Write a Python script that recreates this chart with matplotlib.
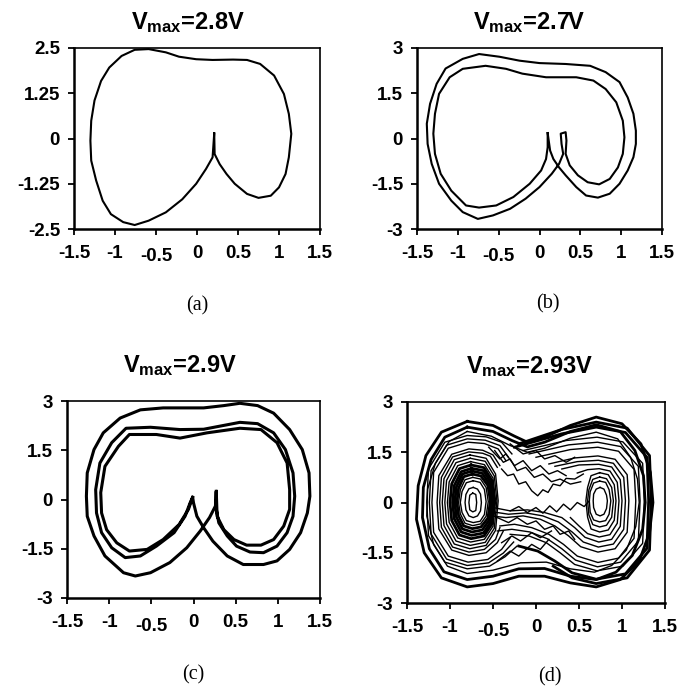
import matplotlib
matplotlib.use("Agg")
import matplotlib.pyplot as plt

plt.rcParams['font.family'] = ['Liberation Sans', 'DejaVu Sans']
plt.rcParams['mathtext.fontset'] = 'custom'
plt.rcParams['mathtext.rm'] = 'Liberation Sans:bold'
plt.rcParams['mathtext.it'] = 'Liberation Sans:bold'
plt.rcParams['mathtext.bf'] = 'Liberation Sans:bold'

# ---------------- data ----------------
x_ticks = [-1.5, -1, -0.5, 0, 0.5, 1, 1.5]
x_ticklabels = ['-1.5', '-1', '-0.5', '0', '0.5', '1', '1.5']
a_yticks = [-2.5, -1.25, 0, 1.25, 2.5]
a_yticklabels = ['-2.5', '-1.25', '0', '1.25', '2.5']
bcd_yticks = [-3, -1.5, 0, 1.5, 3]
bcd_yticklabels = ['-3', '-1.5', '0', '1.5', '3']
titles = ['2.8V', '2.7V', '2.9V', '2.93V']
captions = ['(a)', '(b)', '(c)', '(d)']

# (a) Vmax = 2.8 V : period-1 orbit
a_x = [0.21, 0.215, 0.277, 0.36, 0.46, 0.61, 0.75, 0.90, 1.0, 1.08, 1.12, 1.15, 1.12, 1.06, 0.94,
       0.77, 0.61, 0.44, 0.19, -0.01, -0.22, -0.38, -0.59, -0.76, -0.92, -1.07, -1.17, -1.25, -1.29,
       -1.30, -1.29, -1.23, -1.15, -1.05, -0.90, -0.76, -0.59, -0.38, -0.18, -0.01, 0.11, 0.19, 0.21]
a_y = [0.14, -0.43, -0.71, -0.98, -1.25, -1.53, -1.64, -1.58, -1.35, -0.98, -0.52, 0.13, 0.68, 1.23,
       1.74, 2.06, 2.17, 2.18, 2.17, 2.19, 2.26, 2.38, 2.47, 2.45, 2.28, 1.96, 1.59, 1.05, 0.49, -0.06,
       -0.61, -1.16, -1.72, -2.09, -2.31, -2.39, -2.27, -2.04, -1.68, -1.25, -0.84, -0.52, 0.14]

# (b) Vmax = 2.7 V : period-2 orbit
b_x = [0.10, 0.10, 0.08, 0.02, -0.12, -0.32, -0.53, -0.74, -0.90, -1.08, -1.21, -1.28, -1.30, -1.28,
       -1.23, -1.10, -0.94, -0.66, -0.41, -0.21, 0.08, 0.45, 0.66, 0.81, 0.94, 1.02, 1.04, 1.02, 0.96,
       0.86, 0.73, 0.59, 0.47, 0.37, 0.32, 0.33, 0.32, 0.26, 0.27, 0.29,
       0.24, 0.15, 0.00, -0.17, -0.36, -0.57, -0.755, -0.94, -1.08, -1.23, -1.32, -1.37, -1.38, -1.34,
       -1.26, -1.15, -0.94, -0.74, -0.49, -0.245, 0.0, 0.32, 0.62, 0.81, 0.98, 1.08, 1.15, 1.18, 1.18,
       1.15, 1.08, 0.98, 0.86, 0.715, 0.57, 0.45, 0.32, 0.24, 0.17, 0.13, 0.10]
b_y = [0.18, -0.29, -0.68, -1.06, -1.50, -1.94, -2.22, -2.29, -2.22, -1.73, -1.17, -0.51, 0.16, 0.82,
       1.48, 2.03, 2.31, 2.41, 2.31, 2.15, 2.03, 2.03, 1.92, 1.64, 1.20, 0.59, 0.04, -0.51, -0.96,
       -1.34, -1.52, -1.45, -1.22, -0.89, -0.51, -0.07, 0.21, 0.16, -0.18, -0.51,
       -0.84, -1.17, -1.61, -1.995, -2.33, -2.55, -2.665, -2.44, -2.06, -1.50, -0.84, -0.18, 0.49, 1.15,
       1.81, 2.32, 2.64, 2.80, 2.71, 2.58, 2.50, 2.47, 2.41, 2.20, 1.87, 1.36, 0.82, 0.26, -0.18,
       -0.62, -1.06, -1.50, -1.83, -1.96, -1.89, -1.61, -1.22, -0.96, -0.68, -0.40, 0.18]

# (c) Vmax = 2.9 V : period-3 orbit
c_x = [-0.01, -0.06, -0.17, -0.36, -0.55, -0.76, -0.91, -1.03, -1.09, -1.10, -1.05, -0.89, -0.76,
       -0.44, -0.16, 0.16, 0.55, 0.80, 0.99, 1.11, 1.14, 1.14, 1.07, 0.95, 0.80, 0.63, 0.48, 0.36,
       0.28, 0.27,
       0.26, 0.19, 0.08, -0.08, -0.28, -0.51, -0.69, -0.83, -1.05, -1.18, -1.26, -1.27, -1.26, -1.18,
       -1.07, -0.87, -0.63, -0.36, 0.12, 0.36, 0.55, 0.76, 0.95, 1.14, 1.29, 1.37, 1.38, 1.35, 1.27,
       1.14, 0.99, 0.83, 0.59, 0.40, 0.23, 0.12, 0.04, 0.0, -0.01,
       -0.04, -0.10, -0.23, -0.44, -0.63, -0.81, -0.97, -1.09, -1.15, -1.16, -1.11, -0.97, -0.80,
       -0.51, -0.16, 0.12, 0.55, 0.76, 0.95, 1.09, 1.18, 1.20, 1.18, 1.11, 0.99, 0.83, 0.67, 0.51,
       0.40, 0.30, 0.27, 0.27]
c_y = [0.07, -0.30, -0.76, -1.22, -1.52, -1.57, -1.32, -0.92, -0.41, 0.21, 1.01, 1.62, 1.98, 1.98,
       1.87, 2.03, 2.17, 2.13, 1.73, 1.11, 0.30, -0.30, -0.81, -1.22, -1.39, -1.39, -1.22, -0.92,
       -0.51, 0.25,
       -0.20, -0.55, -0.96, -1.47, -1.92, -2.23, -2.33, -2.23, -1.72, -1.11, -0.51, 0.10, 0.81, 1.52,
       2.03, 2.48, 2.73, 2.79, 2.79, 2.86, 2.93, 2.86, 2.63, 2.13, 1.52, 0.81, 0.10, -0.41, -1.01,
       -1.52, -1.87, -1.98, -1.98, -1.72, -1.27, -0.86, -0.51, -0.10, 0.07,
       -0.10, -0.51, -1.01, -1.42, -1.72, -1.77, -1.47, -1.01, -0.41, 0.30, 1.11, 1.73, 2.17, 2.20,
       2.13, 2.14, 2.35, 2.31, 2.03, 1.52, 0.81, 0.10, -0.51, -1.01, -1.42, -1.62, -1.60, -1.42,
       -1.11, -0.71, -0.29, 0.25]

# (d) Vmax = 2.93 V : chaotic double-scroll, traced as rings, arcs and crossings
d_L00 = [(-0.735, 0.28), (-0.70, 0.24), (-0.69, 0.0), (-0.70, -0.24), (-0.735, -0.28), (-0.77, -0.22),
         (-0.78, 0.0), (-0.77, 0.22), (-0.735, 0.28)]
d_L0 = [(-0.73, 0.45), (-0.68, 0.40), (-0.645, 0.25), (-0.635, 0.0), (-0.645, -0.25), (-0.68, -0.40),
        (-0.73, -0.45), (-0.78, -0.40), (-0.815, -0.22), (-0.825, 0.0), (-0.815, 0.24), (-0.78, 0.41),
        (-0.73, 0.45)]
d_LA = [(-0.73, 0.65), (-0.65, 0.60), (-0.60, 0.39), (-0.58, 0.03), (-0.60, -0.36), (-0.65, -0.56),
        (-0.73, -0.60), (-0.81, -0.54), (-0.86, -0.30), (-0.88, 0.0), (-0.86, 0.33), (-0.81, 0.59),
        (-0.73, 0.65)]
d_LA2 = [(-0.735, 0.75), (-0.645, 0.70), (-0.58, 0.45), (-0.555, 0.03), (-0.58, -0.41), (-0.645, -0.64),
         (-0.735, -0.69), (-0.825, -0.62), (-0.88, -0.34), (-0.90, 0.0), (-0.88, 0.38), (-0.825, 0.68),
         (-0.735, 0.75)]
d_LB = [(-0.74, 0.85), (-0.64, 0.79), (-0.56, 0.51), (-0.53, 0.04), (-0.56, -0.47), (-0.64, -0.73),
        (-0.74, -0.78), (-0.84, -0.70), (-0.90, -0.39), (-0.92, 0.0), (-0.90, 0.43), (-0.84, 0.77),
        (-0.74, 0.85)]
d_LB2 = [(-0.745, 0.94), (-0.625, 0.87), (-0.545, 0.56), (-0.515, 0.04), (-0.545, -0.53), (-0.625, -0.82),
         (-0.745, -0.88), (-0.855, -0.79), (-0.925, -0.44), (-0.945, 0.0), (-0.925, 0.47), (-0.855, 0.85),
         (-0.745, 0.94)]
d_LC = [(-0.75, 1.02), (-0.61, 0.95), (-0.53, 0.61), (-0.50, 0.05), (-0.53, -0.59), (-0.61, -0.91),
        (-0.75, -0.98), (-0.87, -0.88), (-0.95, -0.49), (-0.97, 0.0), (-0.95, 0.51), (-0.87, 0.92),
        (-0.75, 1.02)]
d_LC2 = [(-0.755, 1.12), (-0.605, 1.04), (-0.515, 0.67), (-0.485, 0.05), (-0.515, -0.65), (-0.605, -1.00),
         (-0.755, -1.08), (-0.89, -0.97), (-0.98, -0.54), (-1.0, 0.0), (-0.98, 0.56), (-0.89, 1.01),
         (-0.755, 1.12)]
d_LD = [(-0.76, 1.22), (-0.60, 1.13), (-0.50, 0.73), (-0.47, 0.05), (-0.50, -0.71), (-0.60, -1.10),
        (-0.76, -1.18), (-0.91, -1.06), (-1.01, -0.59), (-1.03, 0.0), (-1.01, 0.61), (-0.91, 1.10),
        (-0.76, 1.22)]
d_LD2 = [(-0.765, 1.32), (-0.59, 1.23), (-0.485, 0.79), (-0.455, 0.05), (-0.485, -0.77), (-0.59, -1.19),
         (-0.765, -1.28), (-0.93, -1.15), (-1.04, -0.64), (-1.06, 0.0), (-1.04, 0.66), (-0.93, 1.19),
         (-0.765, 1.32)]
d_LE = [(-0.77, 1.42), (-0.58, 1.32), (-0.47, 0.85), (-0.44, 0.05), (-0.47, -0.83), (-0.58, -1.28),
        (-0.77, -1.38), (-0.95, -1.24), (-1.07, -0.69), (-1.09, 0.0), (-1.07, 0.71), (-0.95, 1.28),
        (-0.77, 1.42)]
d_LE2 = [(-0.45, 1.05), (-0.53, 1.38), (-0.62, 1.47), (-0.78, 1.51), (-0.97, 1.36), (-1.10, 0.75),
         (-1.12, 0.0), (-1.10, -0.74), (-0.97, -1.33), (-0.78, -1.48), (-0.60, -1.40), (-0.47, -1.10),
         (-0.42, -0.75)]
d_LF = [(-0.42, 1.10), (-0.50, 1.42), (-0.62, 1.56), (-0.78, 1.60), (-0.98, 1.44), (-1.13, 0.80),
        (-1.15, 0.0), (-1.13, -0.79), (-0.98, -1.42), (-0.78, -1.58), (-0.58, -1.50), (-0.45, -1.20),
        (-0.38, -0.85)]
d_LG = [(-0.35, 1.25), (-0.44, 1.60), (-0.60, 1.76), (-0.79, 1.80), (-1.02, 1.62), (-1.19, 0.90),
        (-1.21, 0.0), (-1.19, -0.89), (-1.02, -1.60), (-0.79, -1.78), (-0.56, -1.70), (-0.40, -1.40),
        (-0.30, -1.05)]
d_LG2 = [(-0.32, 1.35), (-0.42, 1.70), (-0.59, 1.86), (-0.80, 1.90), (-1.04, 1.71), (-1.22, 0.95),
         (-1.24, 0.0), (-1.22, -0.94), (-1.04, -1.69), (-0.80, -1.88), (-0.55, -1.80), (-0.38, -1.51),
         (-0.26, -1.18)]
d_LH = [(-0.28, 1.45), (-0.40, 1.80), (-0.58, 1.96), (-0.80, 2.00), (-1.06, 1.80), (-1.25, 1.00),
        (-1.27, 0.0), (-1.25, -0.99), (-1.06, -1.78), (-0.80, -1.98), (-0.54, -1.90), (-0.36, -1.62),
        (-0.22, -1.30)]
d_R0 = [(0.745, 0.45), (0.79, 0.40), (0.82, 0.22), (0.83, 0.05), (0.82, -0.18), (0.79, -0.35),
        (0.745, -0.40), (0.70, -0.35), (0.67, -0.15), (0.665, 0.05), (0.67, 0.25), (0.70, 0.40),
        (0.745, 0.45)]
d_RA = [(0.74, 0.64), (0.81, 0.60), (0.85, 0.38), (0.87, 0.05), (0.85, -0.35), (0.81, -0.54),
        (0.74, -0.58), (0.67, -0.52), (0.63, -0.29), (0.62, 0.05), (0.63, 0.32), (0.67, 0.58),
        (0.74, 0.64)]
d_RA2 = [(0.74, 0.76), (0.82, 0.71), (0.88, 0.45), (0.90, 0.05), (0.88, -0.44), (0.82, -0.68),
         (0.74, -0.73), (0.66, -0.66), (0.615, -0.37), (0.60, 0.05), (0.615, 0.38), (0.66, 0.69),
         (0.74, 0.76)]
d_RB = [(0.74, 0.89), (0.84, 0.83), (0.91, 0.53), (0.93, 0.05), (0.91, -0.53), (0.84, -0.82),
        (0.74, -0.88), (0.64, -0.79), (0.60, -0.44), (0.58, 0.05), (0.60, 0.45), (0.64, 0.80),
        (0.74, 0.89)]
d_RB2 = [(0.48, 0.88), (0.60, 0.98), (0.735, 1.01), (0.86, 0.94), (0.945, 0.60), (0.965, 0.05),
         (0.945, -0.62), (0.86, -0.96), (0.735, -1.03), (0.60, -0.93), (0.50, -0.70), (0.40, -0.45)]
d_RC = [(0.30, 1.00), (0.50, 1.12), (0.73, 1.14), (0.88, 1.06), (0.98, 0.68), (1.00, 0.05),
        (0.98, -0.71), (0.88, -1.10), (0.73, -1.18), (0.57, -1.04), (0.45, -0.75), (0.30, -0.45),
        (0.10, -0.30), (-0.10, -0.22), (-0.30, -0.25), (-0.50, -0.15)]
d_RC2 = [(0.22, 1.08), (0.48, 1.22), (0.725, 1.26), (0.90, 1.17), (1.02, 0.75), (1.04, 0.05),
         (1.02, -0.80), (0.90, -1.24), (0.725, -1.33), (0.55, -1.18), (0.42, -0.88), (0.26, -0.58),
         (0.08, -0.40), (-0.12, -0.31), (-0.32, -0.35), (-0.50, -0.28)]
d_RD = [(0.15, 1.15), (0.45, 1.33), (0.72, 1.39), (0.92, 1.29), (1.06, 0.83), (1.08, 0.05),
        (1.06, -0.89), (0.92, -1.38), (0.72, -1.48), (0.52, -1.32), (0.38, -1.00), (0.22, -0.70),
        (0.05, -0.50), (-0.15, -0.40), (-0.35, -0.45), (-0.52, -0.40)]
d_RE = [(0.00, 1.35), (0.40, 1.58), (0.72, 1.65), (0.96, 1.53), (1.14, 0.99), (1.16, 0.05),
        (1.14, -1.07), (0.96, -1.66), (0.72, -1.79), (0.48, -1.60), (0.32, -1.25), (0.15, -0.95),
        (-0.05, -0.75), (-0.25, -0.65), (-0.42, -0.70)]
d_RE2 = [(-0.08, 1.45), (0.38, 1.72), (0.715, 1.80), (0.985, 1.67), (1.19, 1.08), (1.21, 0.05),
         (1.19, -1.15), (0.985, -1.78), (0.715, -1.92), (0.46, -1.72), (0.30, -1.38), (0.13, -1.08),
         (-0.07, -0.88), (-0.28, -0.80), (-0.45, -0.85)]
d_RF = [(-0.15, 1.55), (0.35, 1.85), (0.71, 1.95), (1.01, 1.81), (1.24, 1.17), (1.26, 0.05),
        (1.24, -1.22), (1.01, -1.90), (0.71, -2.04), (0.45, -1.85), (0.28, -1.50), (0.12, -1.20),
        (-0.08, -1.00), (-0.30, -0.95)]
d_RG = [(-0.25, 1.65), (0.30, 2.05), (0.70, 2.25), (1.04, 2.09), (1.29, 1.35), (1.31, 0.05),
        (1.29, -1.37), (1.04, -2.13), (0.70, -2.29), (0.42, -2.10), (0.22, -1.75), (0.02, -1.45),
        (-0.20, -1.30)]
d_RG2 = [(-0.20, 1.75), (0.30, 2.18), (0.70, 2.40), (1.06, 2.22), (1.32, 1.40), (1.34, 0.05),
         (1.32, -1.42), (1.06, -2.25), (0.70, -2.42), (0.42, -2.25), (0.20, -1.90)]
d_F1 = [(-0.80, 2.42), (-0.50, 2.30), (-0.25, 1.98), (-0.10, 1.80), (0.10, 1.95), (0.40, 2.30),
        (0.70, 2.55), (1.00, 2.35), (1.22, 1.75), (1.33, 0.90), (1.36, 0.00), (1.32, -0.90),
        (1.20, -1.75), (0.98, -2.30), (0.70, -2.52), (0.40, -2.40), (0.10, -2.20), (-0.20, -2.20),
        (-0.50, -2.42), (-0.80, -2.52), (-1.10, -2.25), (-1.30, -1.50), (-1.39, -0.50), (-1.37, 0.50),
        (-1.28, 1.40), (-1.10, 2.10), (-0.80, 2.42)]
d_F2 = [(-0.80, 2.25), (-0.50, 2.12), (-0.28, 1.85), (-0.10, 1.66), (0.10, 1.80), (0.40, 2.12),
        (0.70, 2.32), (0.98, 2.12), (1.15, 1.55), (1.25, 0.80), (1.27, 0.00), (1.24, -0.80),
        (1.12, -1.58), (0.93, -2.08), (0.70, -2.30), (0.40, -2.20), (0.10, -1.97), (-0.20, -1.98),
        (-0.50, -2.20), (-0.80, -2.30), (-1.07, -2.07), (-1.24, -1.38), (-1.32, -0.45), (-1.31, 0.45),
        (-1.22, 1.28), (-1.06, 1.95), (-0.80, 2.25)]
d_F3 = [(-0.80, 2.12), (-0.52, 1.98), (-0.30, 1.70), (-0.10, 1.50), (0.10, 1.62), (0.40, 1.92),
        (0.70, 2.10), (0.95, 1.90), (1.10, 1.35), (1.18, 0.70), (1.20, 0.00), (1.16, -0.72),
        (1.05, -1.42), (0.88, -1.88), (0.68, -2.08), (0.40, -1.98), (0.12, -1.78), (-0.18, -1.80),
        (-0.50, -2.02), (-0.80, -2.12), (-1.03, -1.90), (-1.19, -1.26), (-1.27, -0.40), (-1.26, 0.40),
        (-1.17, 1.17), (-1.01, 1.82), (-0.80, 2.12)]
d_Z1 = [(-0.40, 1.00), (-0.33, 0.80), (-0.26, 0.85), (-0.20, 0.55), (-0.12, 0.62), (-0.05, 0.35),
        (0.02, 0.20), (0.08, 0.38), (0.14, 0.30), (0.20, 0.55), (0.28, 0.50), (0.35, 0.72),
        (0.45, 0.70), (0.55, 0.85)]
d_Z2 = [(-0.30, -0.25), (-0.20, -0.12), (-0.10, -0.30), (0.00, -0.15), (0.08, -0.32), (0.16, -0.10),
        (0.24, -0.28), (0.32, -0.05), (0.40, -0.22), (0.48, 0.00), (0.56, -0.12), (0.62, 0.05)]
d_Z3 = [(-0.55, 1.65), (-0.42, 1.30), (-0.35, 1.45), (-0.25, 1.10), (-0.15, 1.25), (-0.05, 0.95),
        (0.05, 1.10), (0.15, 0.85), (0.25, 0.95), (0.35, 0.80)]
d_Z4 = [(-0.30, 1.75), (-0.15, 1.45), (0.00, 1.55), (0.10, 1.30), (0.22, 1.40), (0.35, 1.20),
        (0.45, 1.35)]
d_Z5 = [(-0.45, -1.75), (-0.30, -1.45), (-0.20, -1.60), (-0.05, -1.25), (0.05, -1.40), (0.15, -1.10)]
d_Z6 = [(-0.48, 1.55), (-0.38, 1.20), (-0.30, 1.30), (-0.22, 0.95), (-0.12, 1.05), (-0.02, 0.75),
        (0.08, 0.85), (0.18, 0.62), (0.28, 0.70), (0.40, 0.55), (0.52, 0.62)]
d_Z7 = [(-0.45, -0.45), (-0.32, -0.60), (-0.22, -0.45), (-0.10, -0.65), (0.00, -0.55), (0.10, -0.80),
        (0.20, -0.70), (0.28, -0.95), (0.38, -0.85), (0.45, -1.10)]
d_Z8 = [(-0.40, -1.20), (-0.28, -1.00), (-0.18, -1.15), (-0.05, -0.90), (0.05, -1.05), (0.18, -0.85)]

# ---------------- figure ----------------
W, H = 677, 692
fig = plt.figure(figsize=(W / 100, H / 100), dpi=100)


def px_axes(l, t, r, b):
    return fig.add_axes([l / W, 1 - b / H, (r - l) / W, (b - t) / H])


axes = [px_axes(74, 48, 320, 229), px_axes(417, 48, 662, 229),
        px_axes(67, 401, 320, 598), px_axes(407, 402, 665, 603)]


def style(ax, yt, ytl):
    ax.set_xlim(-1.5, 1.5)
    ax.set_ylim(yt[0], yt[-1])
    ax.set_xticks(x_ticks)
    ax.set_xticklabels(x_ticklabels)
    ax.set_yticks(yt)
    ax.set_yticklabels(ytl)
    for s in ['left', 'bottom']:
        ax.spines[s].set_linewidth(1.8)
    for s in ['top', 'right']:
        ax.spines[s].set_linewidth(1.2)
    ax.tick_params(direction='out', length=4, width=1.3, labelsize=13.5)
    ax.tick_params(axis='x', pad=7.5)
    ax.tick_params(axis='y', pad=6)
    for lab in ax.get_xticklabels() + ax.get_yticklabels():
        lab.set_fontweight('bold')
    ax.xaxis.get_major_ticks()[2].label1.set_y(-0.018)


style(axes[0], a_yticks, a_yticklabels)
for ax in axes[1:]:
    style(ax, bcd_yticks, bcd_yticklabels)

axes[0].plot(a_x, a_y, color='black', lw=1.5)
axes[1].plot(b_x, b_y, color='black', lw=1.5)
axes[2].plot(c_x, c_y, color='black', lw=2.2)

d_thin = [d_L00, d_L0, d_LA, d_LA2, d_LD, d_LD2, d_LE, d_LE2, d_LF, d_LG, d_LG2, d_LH,
          d_R0, d_RA, d_RA2, d_RB, d_RB2, d_RC, d_RC2, d_RD, d_RE, d_RE2, d_RF,
          d_F3, d_Z1, d_Z2, d_Z3, d_Z4, d_Z5, d_Z6, d_Z7, d_Z8]
d_thick = [d_LB, d_LB2, d_LC, d_LC2, d_RG, d_RG2, d_F1, d_F2]
for pts in d_thin:
    xs, ys = zip(*pts)
    axes[3].plot(xs, ys, color='black', lw=1.0)
for pts in d_thick:
    xs, ys = zip(*pts)
    axes[3].plot(xs, ys, color='black', lw=2.0)

title_pos = [(188, 29), (529, 29), (180, 372), (529, 373)]
for (tx, ty), t in zip(title_pos, titles):
    fig.text(tx / W, 1 - ty / H, r'$V_{max}$=' + t, ha='center', va='baseline',
             fontsize=17, fontweight='bold')

cap_pos = [(197, 306), (548, 304), (193, 675), (550, 677)]
for (cx, cy), c in zip(cap_pos, captions):
    fig.text(cx / W, 1 - cy / H, c, ha='center', va='center', fontsize=14.5,
             family=['Liberation Serif', 'DejaVu Serif'])

fig.savefig('out.png', dpi=100)
